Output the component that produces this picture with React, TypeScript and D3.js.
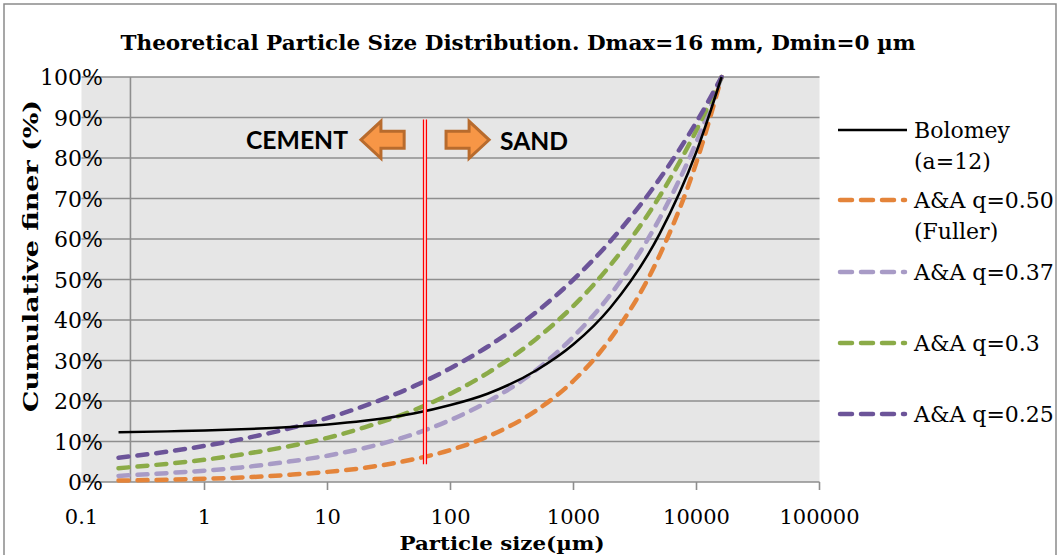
import React from "react";
import * as d3 from "d3";

// particle sizes (µm) at which the curves were read
const sizes = [0.2, 0.5, 1, 2, 5, 10, 20, 50, 100, 200, 500, 1000, 2000, 5000, 10000, 16000];
// cumulative finer (%)
const bolomey = [12.3, 12.5, 12.7, 13.0, 13.6, 14.2, 15.1, 16.9, 19.0, 21.8, 27.6, 34.0, 43.1, 61.2, 81.6, 100];
const aaQ050 = [0.35, 0.56, 0.79, 1.1, 1.8, 2.5, 3.5, 5.6, 7.9, 11.2, 17.7, 25.0, 35.4, 55.9, 79.0, 100];
const aaQ037 = [1.5, 2.2, 2.8, 3.6, 5.1, 6.5, 8.4, 11.8, 15.3, 19.8, 27.7, 35.9, 46.3, 65.0, 84.0, 100];
const aaQ030 = [3.4, 4.5, 5.5, 6.8, 8.9, 10.9, 13.5, 17.7, 21.8, 26.9, 35.4, 43.5, 53.6, 70.5, 86.9, 100];
const aaQ025 = [6.0, 7.5, 8.9, 10.6, 13.3, 15.8, 18.8, 23.6, 28.1, 33.4, 42.0, 50.0, 59.5, 74.8, 88.9, 100];

const seriesNames = ["Bolomey (a=12)", "A&A q=0.50 (Fuller)", "A&A q=0.37", "A&A q=0.3", "A&A q=0.25"];
const seriesColors = ["#000000", "#E4843A", "#A89BC6", "#8BAB48", "#6C5499"];
const seriesValues = [bolomey, aaQ050, aaQ037, aaQ030, aaQ025];
const legendLines = [["Bolomey", "(a=12)"], ["A&A q=0.50", "(Fuller)"], ["A&A q=0.37"], ["A&A q=0.3"], ["A&A q=0.25"]];

const xTicks = [0.1, 1, 10, 100, 1000, 10000, 100000];
const xTickLabels = ["0.1", "1", "10", "100", "1000", "10000", "100000"];
const yTicks = [0, 10, 20, 30, 40, 50, 60, 70, 80, 90, 100];

// boundary cement / sand (µm) and the vertical extent of its marker (%)
const boundarySize = 62;
const boundaryRange = [4.4, 89.5];
// arrows: [tail size, tip size] at a level (%)
const arrowLevel = 84.5;
const cementArrow = [42, 18.7];
const sandArrow = [92, 206];

const W = 1060;
const H = 555;

export default function App() {
  const x = d3.scaleLog().domain([0.1, 100000]).range([81.5, 819.5]);
  const y = d3.scaleLinear().domain([0, 100]).range([482, 77]);
  const [x0, x1] = x.range();
  const [yb, yt] = y.range();
  const line = d3
    .line<number>()
    .x((_, i) => x(sizes[i]))
    .y((v) => y(v))
    .curve(d3.curveMonotoneX);

  const serif = "'DejaVu Serif', serif";

  const arrowPath = (tail: number, tip: number) => {
    const xt = x(tail);
    const xp = x(tip);
    const dir = xp > xt ? 1 : -1;
    const cy = y(arrowLevel);
    const headLen = 20;
    const shaftH = 8.5;
    const headH = 18.5;
    const xh = xp - dir * headLen;
    return `M${xt},${cy - shaftH} L${xh},${cy - shaftH} L${xh},${cy - headH} L${xp},${cy} L${xh},${cy + headH} L${xh},${cy + shaftH} L${xt},${cy + shaftH} Z`;
  };

  const legendY = [130, 200, 272, 343, 414];

  return (
    <svg width={W} height={H} style={{ position: "absolute", left: 0, top: 0, background: "#fff" }}>
      <rect x={4} y={4} width={W - 8} height={H + 10} fill="#fff" stroke="#8a8a8a" strokeWidth={1.5} />
      <text x={518} y={50} textAnchor="middle" fontFamily={serif} fontWeight="bold" fontSize={20} textLength={795} lengthAdjust="spacingAndGlyphs">
        Theoretical Particle Size Distribution. Dmax=16 mm, Dmin=0 µm
      </text>
      {/* plot area */}
      <rect x={x0} y={yt} width={x1 - x0} height={yb - yt} fill="#E6E6E6" />
      {yTicks.map((t) => (
        <line key={"g" + t} x1={x0} x2={x1} y1={y(t)} y2={y(t)} stroke="#8E8E8E" strokeWidth={1.6} />
      ))}
      <line x1={x(0.25)} x2={x(0.25)} y1={yt} y2={yb} stroke="#8E8E8E" strokeWidth={1.6} />
      {xTicks.slice(1).map((t) => (
        <line key={"t" + t} x1={x(t)} x2={x(t)} y1={yb} y2={yb + 8} stroke="#8E8E8E" strokeWidth={1.6} />
      ))}
      {/* curves */}
      {seriesValues.map((vals, i) =>
        i === 0 ? null : (
          <path key={seriesNames[i]} d={line(vals) || ""} fill="none" stroke={seriesColors[i]} strokeWidth={4.5} strokeDasharray="10 9" strokeLinecap="round" />
        )
      )}
      <path d={line(bolomey) || ""} fill="none" stroke={seriesColors[0]} strokeWidth={2.5} />
      {/* cement / sand boundary */}
      <rect x={x(boundarySize) - 2} y={y(boundaryRange[1])} width={4} height={y(boundaryRange[0]) - y(boundaryRange[1])} fill="#FFD0D0" />
      <line x1={x(boundarySize) - 1.5} x2={x(boundarySize) - 1.5} y1={y(boundaryRange[1])} y2={y(boundaryRange[0])} stroke="#FF0000" strokeWidth={1.2} />
      <line x1={x(boundarySize) + 1.5} x2={x(boundarySize) + 1.5} y1={y(boundaryRange[1])} y2={y(boundaryRange[0])} stroke="#FF0000" strokeWidth={1.2} />
      <path d={arrowPath(cementArrow[0], cementArrow[1])} fill="#F79646" stroke="#B86B2D" strokeWidth={3} strokeLinejoin="miter" />
      <path d={arrowPath(sandArrow[0], sandArrow[1])} fill="#F79646" stroke="#B86B2D" strokeWidth={3} strokeLinejoin="miter" />
      <text x={246} y={y(arrowLevel) + 9} fontFamily="Lato, 'Open Sans', sans-serif" fontWeight="bold" fontSize={24} textLength={102} lengthAdjust="spacingAndGlyphs">CEMENT</text>
      <text x={500} y={y(arrowLevel) + 10} fontFamily="Lato, 'Open Sans', sans-serif" fontWeight="bold" fontSize={24} textLength={68} lengthAdjust="spacingAndGlyphs">SAND</text>
      {/* y tick labels */}
      {yTicks.map((t) => (
        <text key={"yl" + t} x={103} y={y(t) + 8} textAnchor="end" fontFamily={serif} fontSize={22}>
          {t + "%"}
        </text>
      ))}
      {xTicks.map((t, i) => (
        <text key={"xl" + t} x={x(t)} y={524} textAnchor="middle" fontFamily={serif} fontSize={21}>
          {xTickLabels[i]}
        </text>
      ))}
      <text x={502} y={550} textAnchor="middle" fontFamily={serif} fontWeight="bold" fontSize={19} textLength={205} lengthAdjust="spacingAndGlyphs">
        Particle size(µm)
      </text>
      <text transform={`translate(38,256) rotate(-90)`} textAnchor="middle" fontFamily={serif} fontWeight="bold" fontSize={21} textLength={312} lengthAdjust="spacingAndGlyphs">
        Cumulative finer (%)
      </text>
      {/* legend */}
      {seriesNames.map((name, i) => (
        <g key={"lg" + name}>
          {i === 0 ? (
            <line x1={838} x2={907} y1={legendY[i]} y2={legendY[i]} stroke={seriesColors[i]} strokeWidth={2.5} />
          ) : (
            <line x1={840} x2={905} y1={legendY[i]} y2={legendY[i]} stroke={seriesColors[i]} strokeWidth={4.5} strokeDasharray="12 9" strokeLinecap="round" />
          )}
          {legendLines[i].map((s, j) => (
            <text key={s} x={914} y={legendY[i] + 8 + j * 31} fontFamily={serif} fontSize={22}>
              {s}
            </text>
          ))}
        </g>
      ))}
    </svg>
  );
}
